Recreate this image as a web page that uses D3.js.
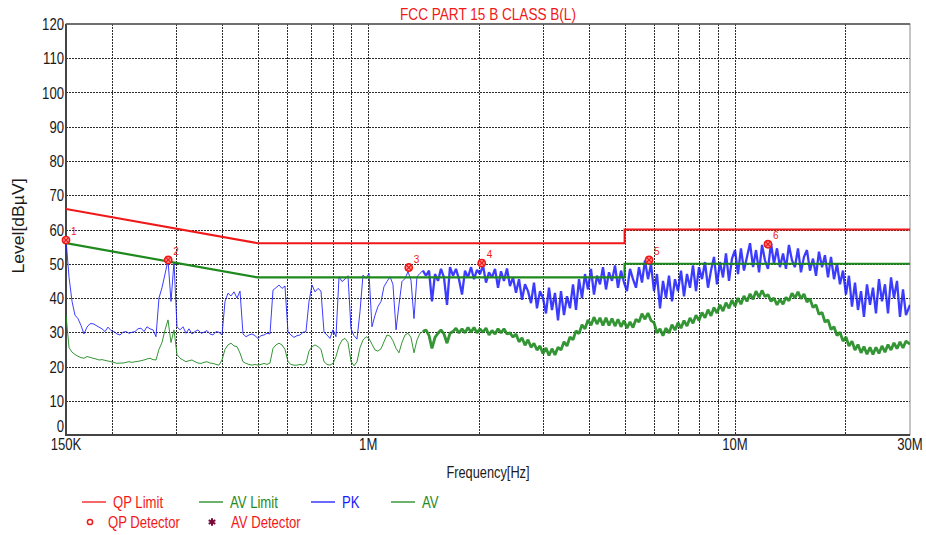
<!DOCTYPE html>
<html>
<head>
<meta charset="utf-8">
<script src="https://cdn.jsdelivr.net/npm/d3@7"></script>
<style>
  body { margin: 0; background: #fff; }
  svg { display: block; font-family: "Liberation Sans", Arial, sans-serif; }
</style>
</head>
<body>
<svg id="chart" width="926" height="535"></svg>
<script>
// sweep frequencies (MHz), shared by the PK and AV traces
const freqMHz = [
  0.1500,0.1529,0.1558,0.1587,0.1617,0.1648,0.1679,0.1711,0.1744,0.1777,0.1811,0.1845,0.1880,0.1916,0.1952,
  0.1990,0.2027,0.2066,0.2105,0.2145,0.2186,0.2228,0.2270,0.2313,0.2357,0.2402,0.2448,0.2494,0.2542,0.2590,
  0.2639,0.2689,0.2740,0.2793,0.2846,0.2900,0.2955,0.3011,0.3068,0.3127,0.3186,0.3247,0.3308,0.3371,0.3435,
  0.3501,0.3567,0.3635,0.3704,0.3774,0.3846,0.3919,0.3994,0.4070,0.4147,0.4226,0.4306,0.4388,0.4472,0.4557,
  0.4643,0.4732,0.4822,0.4913,0.5007,0.5102,0.5199,0.5298,0.5398,0.5501,0.5606,0.5712,0.5821,0.5931,0.6044,
  0.6159,0.6276,0.6395,0.6517,0.6641,0.6767,0.6896,0.7027,0.7161,0.7297,0.7435,0.7577,0.7721,0.7867,0.8017,
  0.8169,0.8325,0.8483,0.8644,0.8809,0.8976,0.9147,0.9321,0.9498,0.9678,0.9862,1.005,1.024,1.044,1.063,
  1.084,1.104,1.125,1.147,1.168,1.191,1.213,1.236,1.260,1.284,1.308,1.333,1.358,1.384,1.410,
  1.437,1.465,1.492,1.521,1.550,1.579,1.609,1.640,1.671,1.703,1.735,1.768,1.802,1.836,1.871,
  1.907,1.943,1.980,2.017,2.056,2.095,2.135,2.175,2.217,2.259,2.302,2.345,2.390,2.435,2.482,
  2.529,2.577,2.626,2.676,2.727,2.779,2.831,2.885,2.940,2.996,3.053,3.111,3.170,3.230,3.292,
  3.354,3.418,3.483,3.549,3.617,3.686,3.756,3.827,3.900,3.974,4.050,4.126,4.205,4.285,4.366,
  4.449,4.534,4.620,4.708,4.798,4.889,4.982,5.076,5.173,5.271,5.371,5.473,5.577,5.683,5.792,
  5.902,6.014,6.128,6.245,6.363,6.484,6.608,6.733,6.861,6.992,7.125,7.260,7.398,7.539,7.682,
  7.828,7.977,8.129,8.283,8.441,8.601,8.765,8.931,9.101,9.274,9.450,9.630,9.813,10.00,10.19,
  10.38,10.58,10.78,10.99,11.20,11.41,11.63,11.85,12.07,12.30,12.54,12.77,13.02,13.26,13.52,
  13.77,14.03,14.30,14.57,14.85,15.13,15.42,15.71,16.01,16.32,16.63,16.94,17.27,17.59,17.93,
  18.27,18.62,18.97,19.33,19.70,20.07,20.45,20.84,21.24,21.64,22.06,22.47,22.90,23.34,23.78,
  24.23,24.69,25.16,25.64,26.13,26.63,27.13,27.65,28.17,28.71,29.25,30.0
];

// peak trace (dBuV)
const pkLevel = [
  57,46,39,35,34,32,29.5,31.5,32.5,32.5,32,31.5,31,30.2,31.5,
  30.5,30.2,29.5,29.2,30,30.2,29.7,30,30.2,31,31.2,30.2,31.6,31,30.7,
  28.7,40,43,47,51,39,50.5,31.6,30.7,31.6,29.7,31,29.5,30.2,30.7,
  29.7,30,30.5,29.5,29.2,30.2,30,29.2,39,41.4,40.6,41.8,40,42,29.5,
  28.7,29.2,29.5,29,28.2,29,29.2,29.7,29.5,42.3,43,43.8,42.8,43.5,30,
  29.2,28.5,29,29.2,30,30.2,39,43.8,41.8,42.8,42,30,29.2,28.2,30.7,
  28.7,46.2,44.8,45.5,46.5,31,29,28,36,46.7,45.7,47.2,31.6,35,37.5,
  39,43.3,44.8,46.2,44,30.7,38,44.8,45.7,47.7,45.2,34,46.2,47.2,48,
  46.5,48,39,47,45,48.5,46,38,49,46.5,48.5,45.5,41,48,46,
  49,45.5,48.2,47,49.5,44.5,47.5,46,48.5,43,47.8,45,48.6,43.5,46,
  41.5,45.5,39.5,44,42,38.5,44.5,37,42,40,35.5,43,36.5,41.5,33.5,
  42,35,40.5,37,44,36.5,45.5,40,47,42.5,48.5,41,46.5,44,49,
  42.5,47.5,45,49.5,43,48,44.5,42,48.5,45.5,43,49,44.5,51,45.5,
  50,42,47,37,45,40,46.5,39,45.5,42,48,40.5,47,43,49.5,
  42,49,45.5,50.5,43,48,52,44,50.5,46,53,45,51.5,54,47,
  54.5,48,52,56,49,54,47.5,55.5,51,48.5,56,50,54.5,49,53,
  48.5,55.5,51,49,54.5,47.5,52,54,48,51.5,46.5,53.5,49,52.5,46,
  52,45.5,50,44,48,41,46.5,37.5,44.5,36.5,42,34.5,44,38,43,
  35.5,45.5,39,44,35.5,46,40,45,34.5,42.5,35,38
];

// average trace (dBuV)
const avLevel = [
  35,25.5,24.2,23.5,23,22.6,22.4,22.9,22.7,22.4,22.2,21.9,22,21.8,21.6,
  21.4,21.2,20.9,21,21,21.2,21.4,21.2,21.4,21.5,21.7,21.9,22.2,22.4,22,
  21.9,25,27,30.7,33.6,27,30.7,23.5,22.4,21.9,21.4,21.7,21.9,21.4,21,
  20.9,21.2,21.4,21,20.9,20.6,20.4,21.9,25,26.3,26.8,26,25.8,23.9,21.4,
  20.9,20.6,20.4,20.6,20.4,20.6,20.9,20.6,21,25.3,26.3,26.8,26.3,25,21.4,
  20.6,20.4,20.4,20.6,20.4,20.9,24.5,25.8,26.3,25.8,25,21.4,20.6,20.4,20.9,
  22.9,26,27.7,28.2,27,21.5,20.2,21.4,25.5,27.7,28.7,28.2,26.5,24.8,24.5,
  25.2,27.2,29.2,28.9,27.5,25.3,24,27,29.2,29.7,28.5,24,27.7,29.7,30.2,
  30.7,29,25.3,28.5,29.7,30.7,29.5,26.8,29.7,30.2,31.2,29.8,31,29.8,31.4,
  30,31.4,29.8,31,30,31.2,29.2,30.5,29.5,31,29.8,31,29.5,29.8,28.6,
  29.5,27.2,28.4,26.2,27.8,25.6,26.8,24.8,26,23.8,25.4,23.2,25.2,23.4,25.6,
  24.8,27.2,26,28.6,27.8,30.4,29.6,32.2,31,33.6,32,34.4,32.4,34.2,32,
  34.2,32,34,31.8,33.8,31.6,33.4,31.2,33,31.4,33.8,33,35.4,33.8,35.6,
  33.4,32.8,29.8,31,29,31.2,29.8,32.2,30.6,32.8,31.2,33.4,31.8,34.2,32.6,
  35,33.4,35.8,34.2,36.6,34.8,37.2,35.6,38,36.2,38.6,37,39.4,37.6,40,
  38.2,40.6,39,41.2,39.6,42,40.2,42.2,40.4,41,39,40,38,39.6,38.2,
  40.2,39.2,41.4,40,41.8,39.8,41.2,38.8,39.8,37.2,38,35.2,35.8,33,33.6,
  30.8,31.6,29,30,27.4,28.6,26,27.4,24.8,26.4,24,25.8,23.6,25.6,23.5,
  25.6,23.8,26,24.2,26.4,24.8,26.9,25.2,27.2,25.4,27.4,26.5
];

// limit lines
const limitFreq = [0.15, 0.5, 5, 5, 30];
const qpLimit = [66, 56, 56, 60, 60];
const avLimit = [56, 46, 46, 50, 50];

// detector markers
const markerFreq = [0.15, 0.285, 1.29, 2.04, 5.83, 12.3];
const markerLevel = [56.9, 51.1, 48.9, 50.2, 51.1, 55.7];
const markerName = ["1", "2", "3", "4", "5", "6"];

// axes
const levelTicks = [0, 10, 20, 30, 40, 50, 60, 70, 80, 90, 100, 110, 120];
const gridFreq = [0.2, 0.3, 0.4, 0.5, 0.6, 0.7, 0.8, 0.9, 1, 2, 3, 4, 5, 6, 7, 8, 9, 10, 20];
const freqTicks = [0.15, 1, 10, 30];
const freqTickNames = ["150K", "1M", "10M", "30M"];

const RED = "#f01818", GREEN = "#1e8a1e", BLUE = "#1a1aff";
const BAND_START = 1.4;   // above this the traces are a dense noisy band

const svg = d3.select("#chart");
const x = d3.scaleLog().domain([0.15, 30]).range([66, 910]);
const y = d3.scaleLinear().domain([0, 120]).range([435, 24]);

// text helper: the source picture is a bit narrower than normal Arial
function label(g, px, py, s, o) {
    o = o || {};
    const t = g.append("text")
        .attr("transform", `translate(${px},${py})` + (o.rot ? ` rotate(${o.rot})` : "") + ` scale(${o.sx || 0.82},1)`)
        .attr("text-anchor", o.anchor || "start")
        .attr("font-size", o.size || 16)
        .attr("fill", o.color || "#1a1a1a")
        .text(s);
    if (o.dy) t.attr("dy", o.dy);
    return t;
}

svg.append("defs").append("clipPath").attr("id", "plot-clip")
    .append("rect").attr("x", 66).attr("y", 24).attr("width", 844).attr("height", 411);

// grid
const grid = svg.append("g").attr("stroke", "#2a2a2a").attr("stroke-width", 1).attr("stroke-dasharray", "2,1");
grid.selectAll("line.v").data(gridFreq).join("line")
    .attr("x1", d => Math.round(x(d)) + 0.5).attr("x2", d => Math.round(x(d)) + 0.5)
    .attr("y1", 24).attr("y2", 435);
grid.selectAll("line.h").data(levelTicks.slice(1, -1)).join("line")
    .attr("x1", 66).attr("x2", 910)
    .attr("y1", d => Math.round(y(d)) + 0.5).attr("y2", d => Math.round(y(d)) + 0.5);

// frame
svg.append("rect").attr("x", 66).attr("y", 24).attr("width", 844).attr("height", 411)
    .attr("fill", "none").attr("stroke", "#8a8a8a").attr("stroke-width", 1);
svg.append("line").attr("x1", 66).attr("x2", 66).attr("y1", 24).attr("y2", 436)
    .attr("stroke", "#444").attr("stroke-width", 2);
svg.append("line").attr("x1", 65).attr("x2", 910).attr("y1", 435).attr("y2", 435)
    .attr("stroke", "#444").attr("stroke-width", 2);
svg.append("line").attr("x1", 66).attr("x2", 910).attr("y1", 24).attr("y2", 24)
    .attr("stroke", "#555").attr("stroke-width", 1.5);

// traces: thin line at low frequencies, heavier stroke where the sweep turns into a noise band
const plot = svg.append("g").attr("clip-path", "url(#plot-clip)");
const trace = d3.line().x(d => x(d[0])).y(d => y(d[1]));
const pkPts = freqMHz.map((f, i) => [f, pkLevel[i]]);
const avPts = freqMHz.map((f, i) => [f, avLevel[i]]);
const cut = freqMHz.findIndex(f => f >= BAND_START);

function drawTrace(pts, color, lowW, bandW, op) {
    plot.append("path").datum(pts.slice(0, cut + 1)).attr("d", trace)
        .attr("fill", "none").attr("stroke", color).attr("stroke-width", lowW).attr("stroke-opacity", op);
    plot.append("path").datum(pts.slice(cut)).attr("d", trace)
        .attr("fill", "none").attr("stroke", color).attr("stroke-width", bandW).attr("stroke-opacity", op)
        .attr("stroke-linejoin", "bevel");
}
drawTrace(avPts, GREEN, 1, 2.8, 0.9);
drawTrace(pkPts, BLUE, 1, 2.3, 0.85);

plot.append("path").datum(limitFreq.map((f, i) => [f, avLimit[i]]))
    .attr("d", trace).attr("fill", "none").attr("stroke", GREEN).attr("stroke-width", 2.2);
plot.append("path").datum(limitFreq.map((f, i) => [f, qpLimit[i]]))
    .attr("d", trace).attr("fill", "none").attr("stroke", RED).attr("stroke-width", 2);

// markers
const mk = svg.append("g").selectAll("g").data(markerFreq).join("g")
    .attr("transform", (d, i) => `translate(${x(d)},${y(markerLevel[i])})`);
mk.append("circle").attr("r", 3.6).attr("fill", "#ff9a9a").attr("stroke", RED).attr("stroke-width", 1.6);
mk.append("path").attr("d", d3.symbol(d3.symbolTimes, 26)).attr("stroke", RED).attr("stroke-width", 1.2);
mk.each(function(d, i) {
    label(d3.select(this), 5, -5, markerName[i], {size: 10, color: RED, sx: 1});
});

// axis labels ("0" nudged up so it clears "150K")
const axis = svg.append("g");
levelTicks.forEach(v => label(axis, 64, y(v) - (v === 0 ? 9 : 0), String(v), {anchor: "end", dy: "0.38em"}));
freqTicks.forEach((f, i) => label(axis, x(f), 450, freqTickNames[i], {anchor: "middle"}));
label(axis, 488, 478, "Frequency[Hz]", {anchor: "middle", sx: 0.8});
label(axis, 24, 226, "Level[dB\u00b5V]", {anchor: "middle", rot: -90, sx: 1.1});
label(axis, 488, 20, "FCC PART 15 B CLASS B(L)", {anchor: "middle", color: RED, sx: 0.85});

// legend
const lg = svg.append("g");
const legendLines = [
    {x: 82, name: "QP Limit", color: RED},
    {x: 199, name: "AV Limit", color: GREEN},
    {x: 311, name: "PK", color: BLUE},
    {x: 391, name: "AV", color: GREEN}
];
legendLines.forEach(d => {
    lg.append("line").attr("x1", d.x).attr("x2", d.x + 24).attr("y1", 502).attr("y2", 502)
        .attr("stroke", d.color).attr("stroke-width", 1.3);
    label(lg, d.x + 31, 507.5, d.name, {color: d.color});
});
lg.append("circle").attr("cx", 90).attr("cy", 522).attr("r", 2.6)
    .attr("fill", "none").attr("stroke", RED).attr("stroke-width", 1.5);
label(lg, 108, 527.5, "QP Detector", {color: RED});
lg.append("path").attr("transform", "translate(212,522)")
    .attr("d", d3.symbol(d3.symbolAsterisk, 40)).attr("stroke", "#7a0838").attr("stroke-width", 2);
label(lg, 231, 527.5, "AV Detector", {color: RED});
</script>
</body>
</html>
